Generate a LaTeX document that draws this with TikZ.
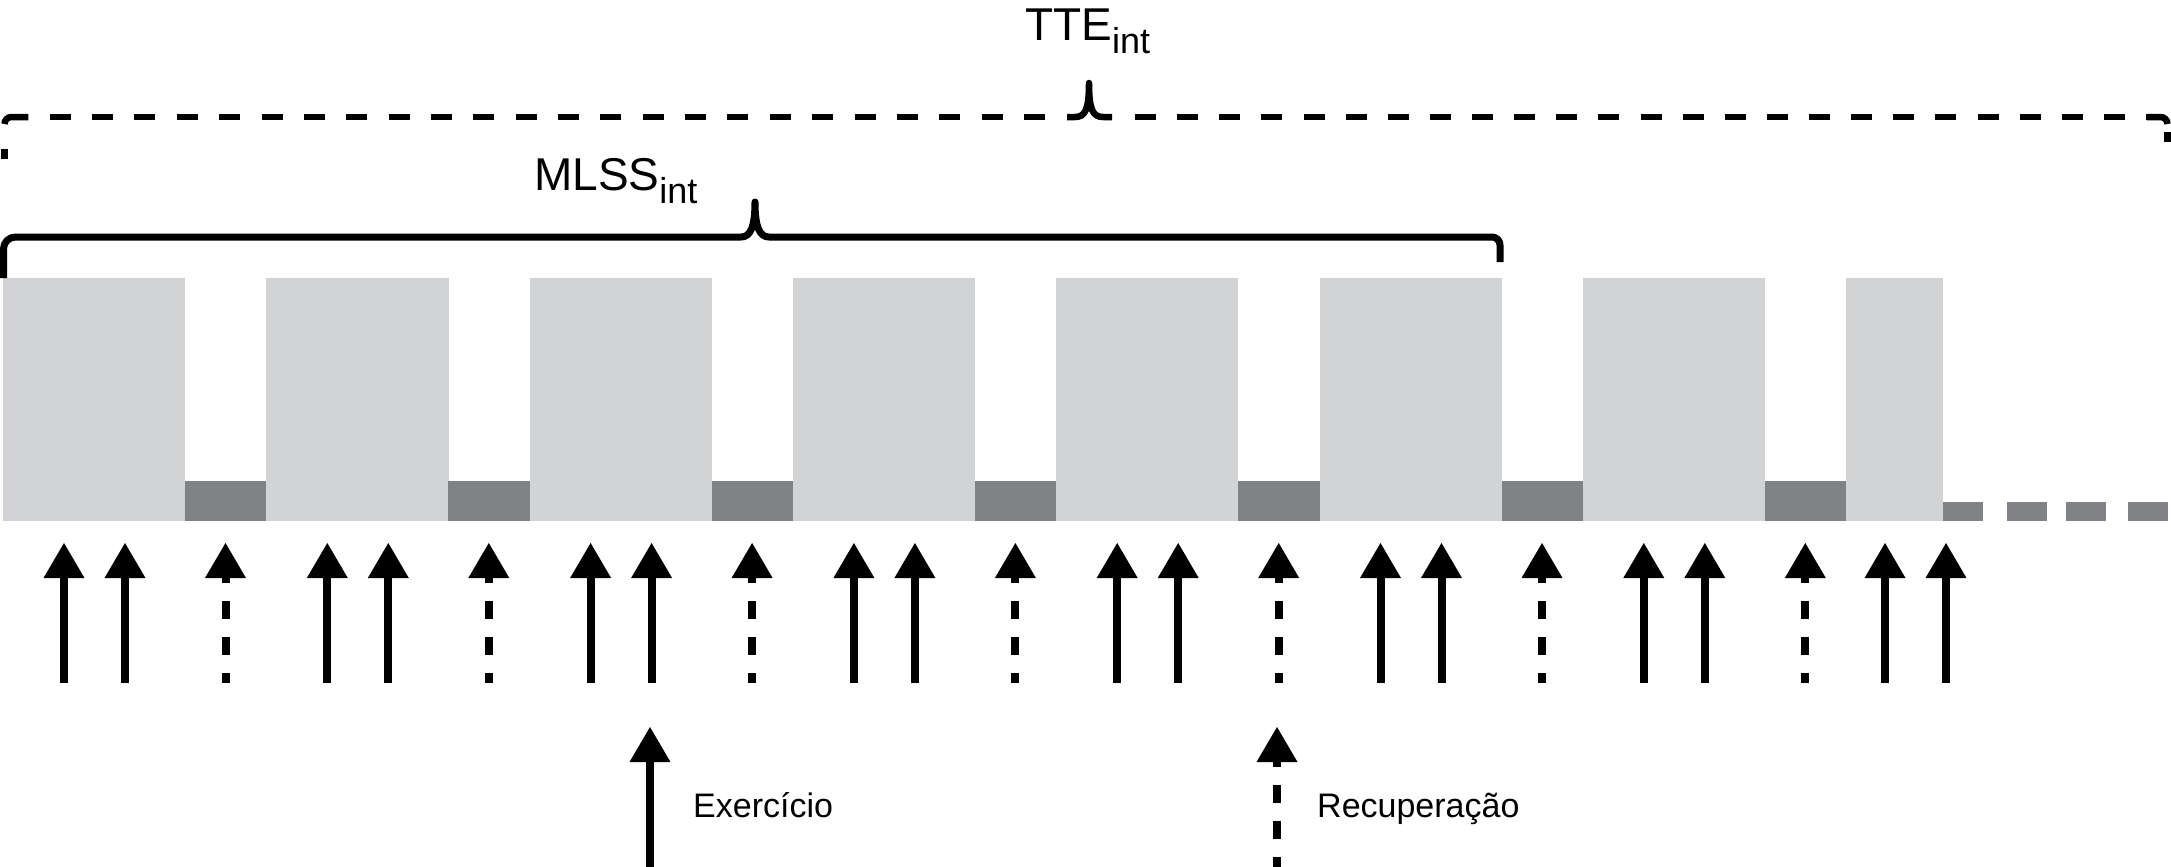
\documentclass[tikz,border=0pt]{standalone}
\usepackage{fontspec}
\setmainfont{Liberation Sans}
\definecolor{lightbar}{HTML}{D1D3D4}
\definecolor{darkbar}{HTML}{808285}
\tikzset{
  txt/.style={anchor=base west, inner sep=0pt},
  bigfont/.style={font=\fontsize{46}{46}\selectfont},
  legfont/.style={font=\fontsize{34}{34}\selectfont},
  ttebr/.style={line width=6.5pt, black},
  mlssbr/.style={line width=7pt, black},
  shaft/.style={line width=8pt, black},
  dshaft/.style={shaft, dash pattern=on 5pt off 18pt on 18pt off 18pt on 18pt off 18pt on 20pt},
  solidarrow/.pic={\fill[black] (0,0) -- (20.5,35) -- (-20.5,35) -- cycle; \draw[shaft] (0,34) -- (0,140);},
  dasharrow/.pic={\fill[black] (0,0) -- (20.5,35) -- (-20.5,35) -- cycle; \draw[dshaft] (0,35) -- (0,140);},
}
\newcommand{\subint}{\raisebox{-13pt}{\fontsize{36}{36}\selectfont int}}
\begin{document}
\begin{tikzpicture}[x=1pt,y=-1pt]
\useasboundingbox (0,0) rectangle (2171,867);

% bars and arrows
\foreach \i in {0,...,6} {
  \pgfmathsetmacro\s{3+263.3*\i}
  \fill[lightbar] (\s,278) rectangle ++(182.2,243);
  \fill[darkbar] (\s+182,481) rectangle ++(81.5,40);
  \pic at (\s+61,543) {solidarrow};
  \pic at (\s+122,543) {solidarrow};
  \pic at (\s+222.5,543) {dasharrow};
}
\fill[lightbar] (1846.1,278) rectangle (1943,521);
\pic at (1885,543) {solidarrow};
\pic at (1946,543) {solidarrow};
\foreach \a/\b in {1943/1983, 2007/2047, 2066/2106, 2128/2168} {
  \fill[darkbar] (\a,502) rectangle (\b,521);
}

% TTE brace (dashed)
\draw[ttebr, dash pattern=on 21pt off 21.36pt] (1045,117) -- (28.4,117);
\draw[ttebr] (28.4,117) -- (11.5,117) arc[start angle=270, end angle=180, radius=7];
\draw[ttebr] (4.5,149) -- (4.5,159);
\draw[ttebr, line join=round] (1067,117) -- (1075,117) .. controls (1085,117) and (1089,110) .. (1089,83)
  .. controls (1089,110) and (1093,117) .. (1103,117) -- (1112,117);
\draw[ttebr, dash pattern=on 21pt off 21.13pt] (1135,117) -- (2147,117);
\draw[ttebr] (2147,117) -- (2160.5,117) arc[start angle=270, end angle=360, radius=7];
\draw[ttebr] (2167.5,132) -- (2167.5,142);

% MLSS brace (solid)
\draw[mlssbr, line join=round] (3.5,278) -- (3.5,249) arc[start angle=180, end angle=270, radius=12]
  -- (741,237) .. controls (750,237) and (755,228) .. (755,202)
  .. controls (755,228) and (760,237) .. (769,237)
  -- (1492,237) arc[start angle=270, end angle=360, radius=8] -- (1500,262);

% labels
\node[txt, bigfont] (tte) at (1025,41) {TTE\subint};
\node[txt, bigfont] (mlss) at (534,190) {MLSS\subint};

% legend
\pic at (650,727) {solidarrow};
\pic at (1277,727) {dasharrow};
\node[txt, legfont] (exerc) at (693,817) {Exercício};
\node[txt, legfont] (recup) at (1317,817) {Recuperação};
\end{tikzpicture}
\end{document}
